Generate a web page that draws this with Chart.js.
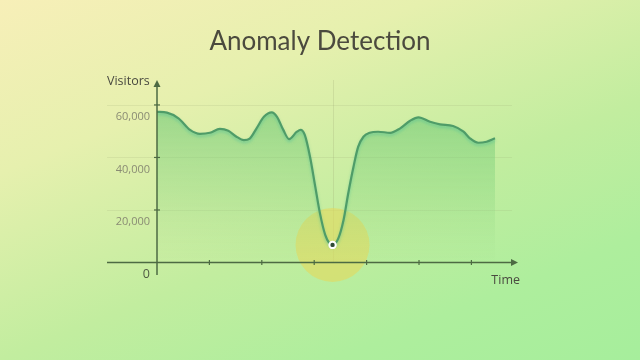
<!DOCTYPE html>
<html>
<head>
<meta charset="utf-8">
<script src="https://cdn.jsdelivr.net/npm/chart.js@4.4.1/dist/chart.umd.min.js"></script>
<style>
  html, body { margin: 0; padding: 0; width: 640px; height: 360px; overflow: hidden; }
  body { background: linear-gradient(158deg, #f7efb8 0%, #e6f0ae 28%, #c2ed9f 58%, #aeee9d 80%, #a6ee9c 100%); }
  #wrap { position: relative; width: 640px; height: 360px; }
</style>
</head>
<body>
<div id="wrap"><canvas id="c" width="640" height="360"></canvas></div>
<script>
// ---- data (time in tick units, visitors) ----
const times = [0.00, 0.19, 0.41, 0.63, 0.82, 1.01, 1.20, 1.36, 1.51, 1.66, 1.77, 1.90, 2.04, 2.19, 2.29, 2.41, 2.52, 2.67, 2.74, 2.82, 2.92, 3.02, 3.11, 3.21, 3.29, 3.35, 3.46, 3.56, 3.65, 3.75, 3.84, 3.94, 4.06, 4.22, 4.45, 4.64, 4.83, 4.99, 5.21, 5.40, 5.65, 5.85, 5.97, 6.13, 6.29, 6.45];
const visitors = [57400, 57100, 54900, 50500, 49000, 49400, 50900, 50200, 48000, 46600, 47200, 51100, 55500, 57200, 55500, 50500, 47000, 49800, 50500, 48600, 40300, 28900, 18700, 10500, 7300, 6700, 9200, 16200, 26400, 36500, 44100, 47900, 49400, 49800, 49400, 51100, 54000, 55300, 53600, 52600, 52000, 49800, 47300, 45600, 46000, 47300];
const anomalyTime = 3.35;
const anomalyValue = 6700;
const yTicks = [0, 20000, 40000, 60000];
const xTicks = [1, 2, 3, 4, 5, 6];
const titleText = 'Anomaly Detection';
const yAxisLabel = 'Visitors';
const xAxisLabel = 'Time';

const AXIS_COLOR = '#4d6a43';
const xMin = 0, xMax = 6.889, xLeftExt = -0.954;
const yMin = -4760, yMax = 69500;

const decor = {
  id: 'decor',
  beforeDatasetsDraw(chart) {
    const { ctx, scales: { x, y } } = chart;
    ctx.save();
    const left = x.getPixelForValue(xLeftExt);
    const right = x.getPixelForValue(xMax);
    ctx.strokeStyle = 'rgba(150,160,110,0.16)';
    ctx.lineWidth = 1;
    yTicks.slice(1).forEach(v => {
      const py = Math.round(y.getPixelForValue(v)) + 0.5;
      ctx.beginPath(); ctx.moveTo(left, py); ctx.lineTo(right - 6, py); ctx.stroke();
    });
    const ax = Math.round(x.getPixelForValue(anomalyTime)) + 0.5;
    ctx.strokeStyle = 'rgba(150,160,110,0.22)';
    ctx.beginPath(); ctx.moveTo(ax, y.getPixelForValue(yMax)); ctx.lineTo(ax, y.getPixelForValue(0)); ctx.stroke();
    ctx.restore();
  },
  beforeDatasetDraw(chart, args) {
    if (args.index === 1) {
      const ctx = chart.ctx;
      ctx.save();
      ctx.shadowColor = 'rgba(80,190,150,0.55)';
      ctx.shadowBlur = 3;
      ctx.shadowOffsetY = 2;
    }
  },
  afterDatasetDraw(chart, args) {
    if (args.index === 1) chart.ctx.restore();
  },
  afterDatasetsDraw(chart) {
    const { ctx, scales: { x, y } } = chart;
    ctx.save();
    const x0 = x.getPixelForValue(0);
    const y0 = y.getPixelForValue(0);
    const left = x.getPixelForValue(xLeftExt);
    const right = x.getPixelForValue(xMax);
    const top = y.getPixelForValue(yMax);
    const bottom = y.getPixelForValue(yMin);
    ctx.strokeStyle = AXIS_COLOR;
    ctx.fillStyle = AXIS_COLOR;
    ctx.lineWidth = 1.5;
    ctx.beginPath(); ctx.moveTo(left, y0); ctx.lineTo(right - 4, y0); ctx.stroke();
    ctx.beginPath(); ctx.moveTo(right, y0); ctx.lineTo(right - 7, y0 - 3.5); ctx.lineTo(right - 7, y0 + 3.5); ctx.closePath(); ctx.fill();
    ctx.beginPath(); ctx.moveTo(x0, bottom); ctx.lineTo(x0, top + 4); ctx.stroke();
    ctx.beginPath(); ctx.moveTo(x0, top); ctx.lineTo(x0 - 3.5, top + 7); ctx.lineTo(x0 + 3.5, top + 7); ctx.closePath(); ctx.fill();
    ctx.lineWidth = 1.2;
    xTicks.forEach(t => {
      const px = x.getPixelForValue(t);
      ctx.beginPath(); ctx.moveTo(px, y0 - 2.5); ctx.lineTo(px, y0 + 2.5); ctx.stroke();
    });
    yTicks.slice(1).forEach(v => {
      const py = y.getPixelForValue(v);
      ctx.beginPath(); ctx.moveTo(x0 - 3, py); ctx.lineTo(x0 + 3, py); ctx.stroke();
    });
    ctx.fillStyle = '#4a4a40';
    ctx.font = '12.5px "Open Sans", sans-serif';
    ctx.textBaseline = 'middle';
    ctx.textAlign = 'left';
    ctx.fillText(yAxisLabel, 107, top + 1);
    ctx.textAlign = 'right';
    ctx.fillText(xAxisLabel, right + 2, y0 + 18);
    ctx.fillStyle = '#4b4a3e';
    ctx.font = '26px Lato, "Open Sans", sans-serif';
    ctx.textAlign = 'center';
    ctx.fillText(titleText, 320, 42);
    ctx.restore();
  }
};

const chart = new Chart(document.getElementById('c'), {
  type: 'line',
  data: {
    datasets: [
      {
        type: 'scatter',
        data: [{ x: anomalyTime, y: anomalyValue }],
        pointRadius: 3.2,
        pointBackgroundColor: '#2f4a35',
        pointBorderColor: '#ffffff',
        pointBorderWidth: 2,
        order: 1
      },
      {
        type: 'line',
        data: times.map((t, i) => ({ x: t, y: visitors[i] })),
        borderColor: '#4f9c68',
        borderWidth: 2.2,
        pointRadius: 0,
        cubicInterpolationMode: 'monotone',
        fill: 'origin',
        backgroundColor(context) {
          const { ctx, chartArea } = context.chart;
          if (!chartArea) return 'rgba(120,200,120,0.4)';
          const g = ctx.createLinearGradient(0, chartArea.top + 25, 0, chartArea.bottom - 10);
          g.addColorStop(0, 'rgba(105,198,115,0.62)');
          g.addColorStop(0.55, 'rgba(130,210,125,0.32)');
          g.addColorStop(1, 'rgba(160,220,140,0.0)');
          return g;
        },
        order: 2
      },
      {
        type: 'bubble',
        data: [{ x: anomalyTime, y: anomalyValue, r: 37 }],
        backgroundColor: 'rgba(228,216,92,0.6)',
        borderWidth: 0,
        hoverRadius: 0,
        clip: false,
        order: 3
      }
    ]
  },
  options: {
    responsive: false,
    animation: false,
    events: [],
    layout: { padding: { left: 0, right: 122, top: 80, bottom: 85 } },
    plugins: {
      legend: { display: false },
      tooltip: { enabled: false },
      title: { display: false }
    },
    scales: {
      x: {
        type: 'linear',
        min: xMin, max: xMax,
        display: false
      },
      y: {
        type: 'linear',
        min: yMin, max: yMax,
        afterFit(scale) { scale.width = 157; },
        afterBuildTicks(scale) { scale.ticks = yTicks.map(v => ({ value: v })); },
        grid: { display: false, drawTicks: false },
        border: { display: false },
        ticks: {
          labelOffset: 12,
          padding: 7,
          color: c => (c.tick && c.tick.value === 0 ? '#4f5a44' : '#8a8c74'),
          font: c => (c.tick && c.tick.value === 0 ? { family: '"Open Sans", sans-serif', size: 12.5 } : { family: '"Open Sans", sans-serif', size: 11 }),
          callback: v => v.toLocaleString('en-US')
        }
      }
    }
  },
  plugins: [decor]
});
</script>
</body>
</html>
